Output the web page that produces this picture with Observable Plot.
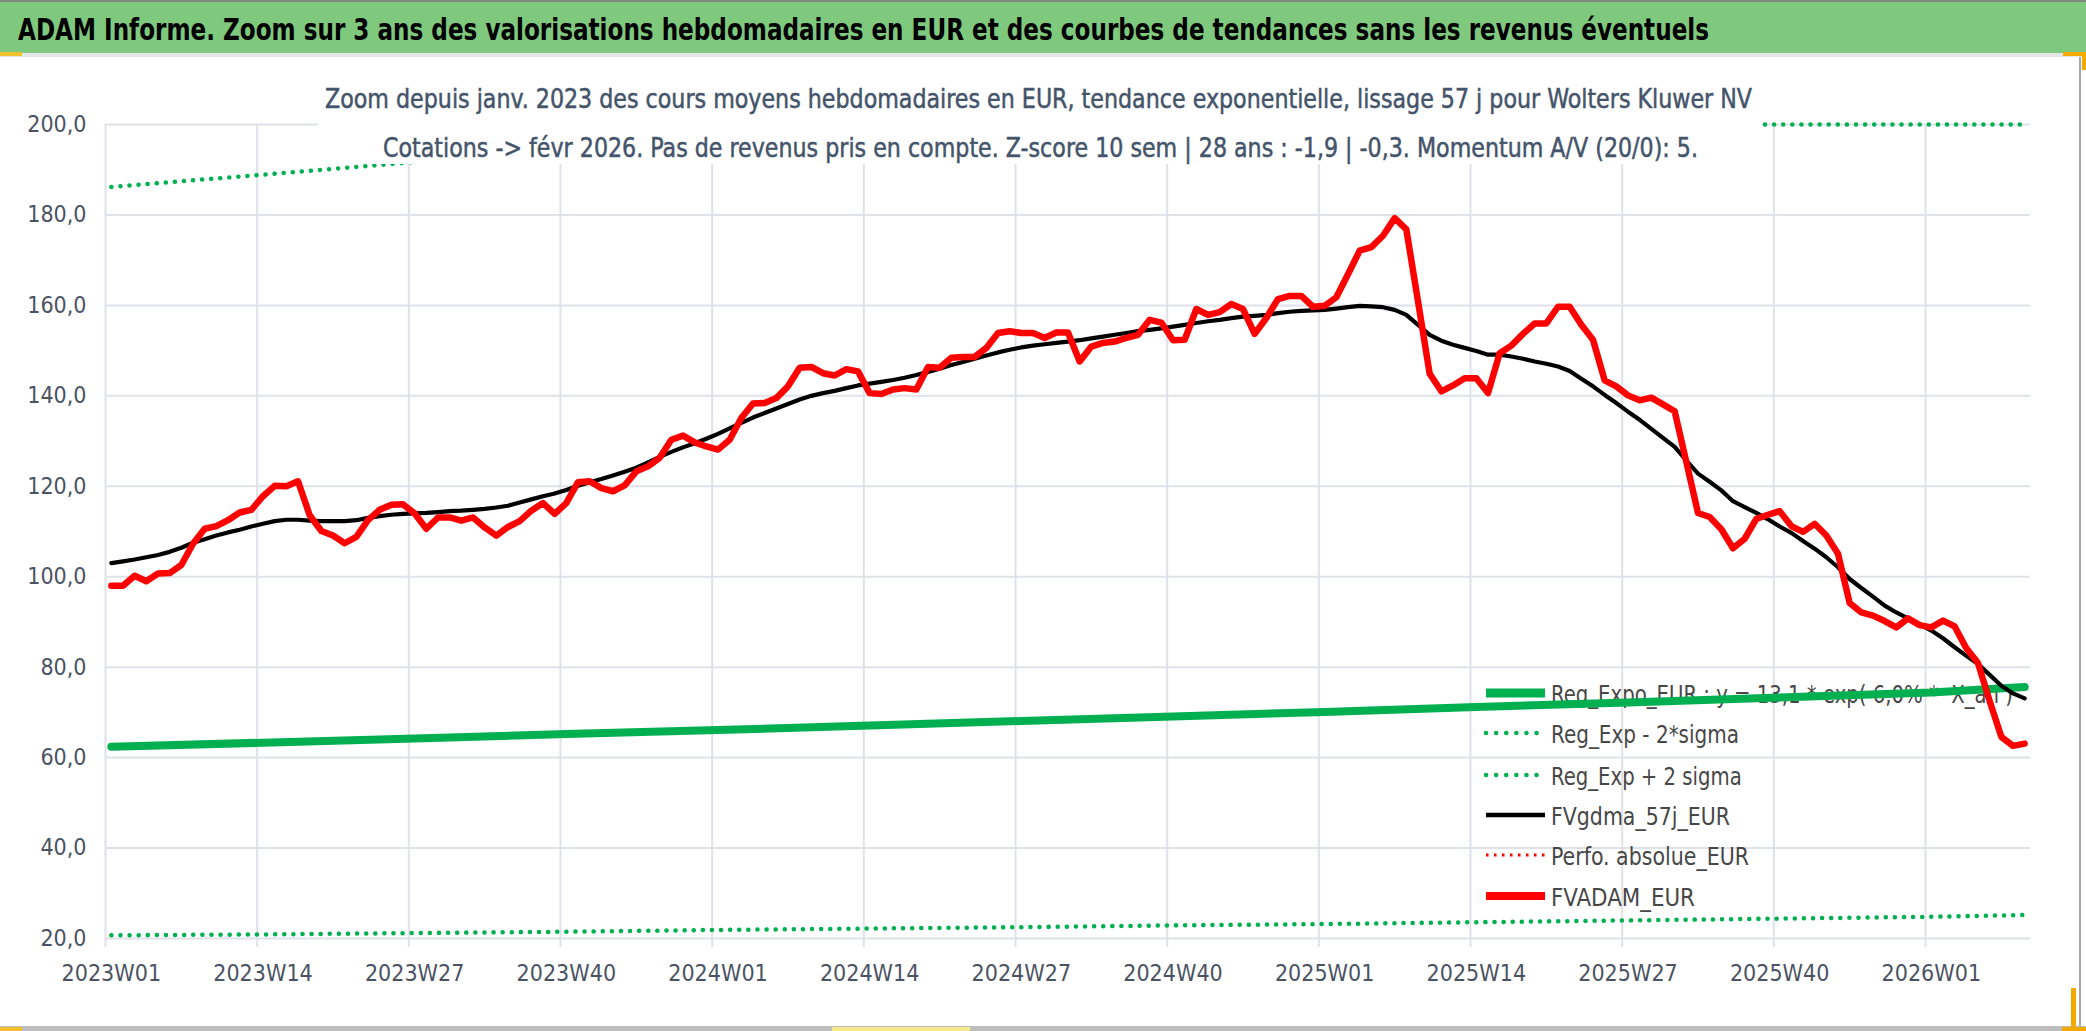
<!DOCTYPE html>
<html><head><meta charset="utf-8">
<script src="https://cdn.jsdelivr.net/npm/d3@7"></script>
<script src="https://cdn.jsdelivr.net/npm/@observablehq/plot@0.6"></script>
<style>
html,body{margin:0;padding:0;background:#fff;}
body{width:2086px;height:1031px;overflow:hidden;position:relative;font-family:"Liberation Sans Narrow","Arial Narrow","DejaVu Sans Condensed",sans-serif;}
#banner{position:absolute;left:0;top:0;width:2086px;height:53px;background:#7ec97e;border-top:2px solid #7d8a7d;box-sizing:border-box;}
#sep{position:absolute;left:0;top:53px;width:2086px;height:4px;background:#e4e6ea;}
.fit{position:absolute;white-space:nowrap;transform-origin:0 0;line-height:1;}
#title{font-weight:bold;font-size:30px;color:#000;z-index:3;}
#subbox{position:absolute;left:318px;top:60px;width:1444px;height:104px;background:#fff;z-index:2;}
.sub{font-size:27px;color:#44546a;z-index:3;-webkit-text-stroke:0.45px #44546a;}
#chart{position:absolute;left:0;top:57px;z-index:1;}
.frameR{position:absolute;left:2079px;top:57px;width:2px;height:970px;background:#a6a6a6;z-index:4}
.frameB{position:absolute;left:0;top:1026px;width:2086px;height:5px;background:#bdbdbd;z-index:4}
.h{position:absolute;z-index:5;}
</style></head>
<body>
<div id="banner"></div>
<div id="sep"></div>
<div id="title" class="fit" data-left="18" data-right="1709" data-base="40">ADAM Informe. Zoom sur 3 ans des valorisations hebdomadaires en EUR et des courbes de tendances sans les revenus éventuels</div>
<div id="chart"></div>
<div id="subbox"></div>
<div class="fit sub" data-left="325" data-right="1752" data-base="109">Zoom depuis janv. 2023 des cours moyens hebdomadaires en EUR, tendance exponentielle, lissage 57 j pour Wolters Kluwer NV</div>
<div class="fit sub" data-left="383" data-right="1698" data-base="158">Cotations -&gt; févr 2026. Pas de revenus pris en compte. Z-score 10 sem | 28 ans : -1,9 | -0,3. Momentum A/V (20/0): 5.</div>
<div class="frameR"></div>
<div class="frameB"></div>
<div class="h" style="left:0;top:52px;width:22px;height:4px;background:#f2c12e"></div>
<div class="h" style="left:2063px;top:52px;width:23px;height:4px;background:#f2a900"></div>
<div class="h" style="left:2082px;top:52px;width:4px;height:18px;background:#f2a900"></div>
<div class="h" style="left:0;top:1027px;width:22px;height:4px;background:#f2c12e"></div>
<div class="h" style="left:832px;top:1027px;width:138px;height:4px;background:#f6e98c"></div>
<div class="h" style="left:2062px;top:1027px;width:24px;height:4px;background:#f2a900"></div>
<div class="h" style="left:2071px;top:988px;width:5px;height:40px;background:#f2a900"></div>
<script>
// ---------- DATA ----------
const weeks = ("2023W01 2023W02 2023W03 2023W04 2023W05 2023W06 2023W07 2023W08 2023W09 2023W10 2023W11 2023W12 2023W13 " +
"2023W14 2023W15 2023W16 2023W17 2023W18 2023W19 2023W20 2023W21 2023W22 2023W23 2023W24 2023W25 2023W26 " +
"2023W27 2023W28 2023W29 2023W30 2023W31 2023W32 2023W33 2023W34 2023W35 2023W36 2023W37 2023W38 2023W39 " +
"2023W40 2023W41 2023W42 2023W43 2023W44 2023W45 2023W46 2023W47 2023W48 2023W49 2023W50 2023W51 2023W52 " +
"2024W01 2024W02 2024W03 2024W04 2024W05 2024W06 2024W07 2024W08 2024W09 2024W10 2024W11 2024W12 2024W13 " +
"2024W14 2024W15 2024W16 2024W17 2024W18 2024W19 2024W20 2024W21 2024W22 2024W23 2024W24 2024W25 2024W26 " +
"2024W27 2024W28 2024W29 2024W30 2024W31 2024W32 2024W33 2024W34 2024W35 2024W36 2024W37 2024W38 2024W39 " +
"2024W40 2024W41 2024W42 2024W43 2024W44 2024W45 2024W46 2024W47 2024W48 2024W49 2024W50 2024W51 2024W52 " +
"2025W01 2025W02 2025W03 2025W04 2025W05 2025W06 2025W07 2025W08 2025W09 2025W10 2025W11 2025W12 2025W13 " +
"2025W14 2025W15 2025W16 2025W17 2025W18 2025W19 2025W20 2025W21 2025W22 2025W23 2025W24 2025W25 2025W26 " +
"2025W27 2025W28 2025W29 2025W30 2025W31 2025W32 2025W33 2025W34 2025W35 2025W36 2025W37 2025W38 2025W39 " +
"2025W40 2025W41 2025W42 2025W43 2025W44 2025W45 2025W46 2025W47 2025W48 2025W49 2025W50 2025W51 2025W52 " +
"2026W01 2026W02 2026W03 2026W04 2026W05 2026W06 2026W07 2026W08 2026W09").split(" ");

const tickLabels = ["2023W01","2023W14","2023W27","2023W40","2024W01","2024W14","2024W27","2024W40",
  "2025W01","2025W14","2025W27","2025W40","2026W01"];
const yTicks = [20,40,60,80,100,120,140,160,180,200];

// FVADAM_EUR (weekly average price, EUR)
const fvadam = [98.0,98.0,100.2,99.0,100.7,100.8,102.6,107.3,110.6,111.2,112.5,114.2,114.8,117.8,120.1,120.0,121.1,113.6,110.1,109.1,
107.4,108.8,112.5,114.8,115.9,116.0,114.0,110.6,113.1,113.1,112.4,113.1,110.9,109.1,111.0,112.3,114.6,116.3,113.9,116.3,
120.9,121.1,119.6,118.9,120.2,123.3,124.4,126.3,130.3,131.2,129.7,128.8,128.1,130.3,135.1,138.3,138.4,139.5,142.1,146.2,
146.4,145.0,144.5,145.9,145.4,140.6,140.4,141.4,141.7,141.4,146.4,146.2,148.4,148.6,148.6,150.6,153.9,154.3,153.9,153.9,
152.8,154.0,154.0,147.6,150.9,151.7,152.0,152.8,153.5,156.8,156.2,152.3,152.4,159.2,157.9,158.5,160.3,159.2,153.7,157.2,
161.4,162.1,162.1,159.7,159.9,161.8,166.9,172.1,172.9,175.4,179.3,176.8,160.9,144.9,141.0,142.3,143.9,143.9,140.6,149.4,
151.1,153.7,156.0,156.0,159.7,159.7,155.7,152.4,143.4,142.1,140.1,139.0,139.6,138.1,136.6,125.4,114.1,113.2,110.5,106.3,
108.4,112.8,113.7,114.5,111.2,109.9,111.7,109.1,105.1,94.2,92.1,91.4,90.2,88.8,90.8,89.3,88.8,90.3,89.0,84.2,
80.9,72.5,64.6,62.6,63.1];

// FVgdma_57j_EUR (57-day smoothing)
const fvgdma = [103.0,103.4,103.8,104.3,104.8,105.5,106.4,107.5,108.3,109.1,109.8,110.4,111.1,111.7,112.3,112.6,112.6,112.4,112.3,112.3,
112.3,112.5,113.0,113.4,113.7,113.9,114.0,114.1,114.3,114.5,114.6,114.8,115.0,115.3,115.7,116.4,117.1,117.8,118.4,119.2,
120.1,120.9,121.6,122.4,123.2,124.1,125.3,126.5,127.6,128.6,129.5,130.5,131.6,132.8,134.0,135.2,136.2,137.2,138.2,139.2,
140.0,140.6,141.1,141.7,142.3,142.7,143.1,143.5,144.0,144.6,145.3,146.0,146.8,147.5,148.2,148.9,149.6,150.2,150.7,151.1,
151.4,151.7,152.0,152.3,152.7,153.1,153.5,153.9,154.3,154.6,154.9,155.3,155.7,156.1,156.5,156.8,157.2,157.5,157.7,157.9,
158.3,158.6,158.8,158.9,159.0,159.3,159.6,159.9,159.8,159.6,159.0,157.9,155.7,153.5,152.2,151.3,150.6,149.9,149.1,149.1,
148.7,148.2,147.6,147.1,146.5,145.5,143.8,142.1,140.2,138.4,136.5,134.7,132.7,130.7,128.7,125.7,122.8,121.0,119.1,116.7,
115.4,114.1,112.7,111.1,109.7,107.9,106.2,104.3,102.1,99.5,97.5,95.6,93.6,92.1,90.8,89.5,88.1,86.4,84.4,82.5,
80.7,78.3,75.9,74.2,73.1];

// Exponential regression and ±2 sigma band, read at the labelled weeks and at the last week
const trendWeeks = ["2023W01","2023W14","2023W27","2023W40","2024W01","2024W14","2024W27","2024W40",
  "2025W01","2025W14","2025W27","2025W40","2026W01","2026W09"];
const regExpo = [62.4,63.3,64.2,65.2,66.1,67.1,68.1,69.1,70.1,71.2,72.2,73.3,74.4,75.6];
const regLow  = [20.7,20.9,21.2,21.5,21.9,22.2,22.5,22.9,23.2,23.6,24.0,24.4,24.8,25.2];
const regHigh = [186.2,188.9,191.7,194.6,197.5,200.4,203.3,206.3,209.3,212.4,215.5,218.7,222.0,225.7];

const legendLabels = ["Reg_Expo_EUR : y = 13,1 * exp( 6,0% *  X_an )","Reg_Exp - 2*sigma","Reg_Exp + 2 sigma",
  "FVgdma_57j_EUR","Perfo. absolue_EUR","FVADAM_EUR"];

// ---------- BUILD ----------
const FONT = '"Liberation Sans Narrow","Arial Narrow","DejaVu Sans Condensed",sans-serif';
const GRID = "#dfe2e8", TXT = "#4b5363", GREEN = "#00b050", RED = "#ff0000";
const idx = w => weeks.indexOf(w);
const pos = i => i + 0.5;
const tickIdx = tickLabels.map(idx);
const redData = fvadam.map((v, i) => ({i, v}));
const blackData = fvgdma.map((v, i) => ({i, v}));
const mk = arr => arr.map((v, k) => ({i: idx(trendWeeks[k]), v}));
const expoData = mk(regExpo), lowData = mk(regLow), highData = mk(regHigh);
const fr = v => v.toFixed(1).replace(".", ",");
const YMAX = 200;

const chart = Plot.plot({
  width: 2086, height: 962,
  marginLeft: 105, marginRight: 56, marginTop: 67, marginBottom: 81,
  x: {domain: [0, weeks.length], label: null},
  y: {domain: [20, YMAX], label: null},
  style: {fontFamily: FONT, fontSize: "23px", color: TXT, background: "transparent", overflow: "visible"},
  marks: [
    Plot.ruleY(yTicks, {stroke: GRID, strokeWidth: 2}),
    Plot.ruleX(tickIdx, {y1: 20, y2: YMAX, stroke: GRID, strokeWidth: 2}),
    Plot.axisX({ticks: tickIdx, tickSize: 9, tickFormat: () => "", stroke: GRID, strokeWidth: 2, label: null}),
    Plot.axisX({ticks: tickIdx.map(pos), tickSize: 0, tickPadding: 26, tickFormat: v => weeks[Math.round(v - 0.5)], fill: TXT, label: null}),
    Plot.axisY({ticks: yTicks, tickSize: 0, tickPadding: 19, tickFormat: fr, fill: TXT, label: null}),
    Plot.line(expoData, {x: d => pos(d.i), y: "v", stroke: GREEN, strokeWidth: 8, strokeLinecap: "round"}),
    Plot.line(lowData, {x: d => pos(d.i), y: "v", stroke: GREEN, strokeWidth: 4.5, strokeDasharray: "0.1 9", strokeLinecap: "round"}),
    Plot.line(highData, {x: d => pos(d.i), y: d => Math.min(d.v, YMAX), stroke: GREEN, strokeWidth: 4.5, strokeDasharray: "0.1 9", strokeLinecap: "round"}),
    Plot.line(blackData, {x: d => pos(d.i), y: "v", stroke: "#000", strokeWidth: 4.2, strokeLinejoin: "round"}),
    Plot.line(redData, {x: d => pos(d.i), y: "v", stroke: RED, strokeWidth: 6.5, strokeLinejoin: "round", strokeLinecap: "round"})
  ]
});
document.getElementById("chart").appendChild(chart);

// ---------- LEGEND (drawn under the series, like the original) ----------
const firstLine = chart.querySelector('g[aria-label="line"]');
const lg = document.createElementNS("http://www.w3.org/2000/svg", "g");
chart.insertBefore(lg, firstLine);
const L = d3.select(lg).attr("font-family", FONT).attr("fill", "#474747").attr("text-anchor", "start");
const legY = [636, 676, 718, 758, 798, 839];
const legEnd = [2013, 1739, 1736, 1730, 1749, 1695];
const legStyle = [
  {stroke: GREEN, w: 9, dash: null, cap: "butt"},
  {stroke: GREEN, w: 4.5, dash: "0.1 10", cap: "round"},
  {stroke: GREEN, w: 4.5, dash: "0.1 10", cap: "round"},
  {stroke: "#000", w: 4.5, dash: null, cap: "butt"},
  {stroke: RED, w: 3, dash: "2.5 5.5", cap: "butt"},
  {stroke: RED, w: 8, dash: null, cap: "butt"}
];
const LEG_FS = 25;
L.attr("font-size", LEG_FS);
const probe = L.append("text").text(legendLabels[0]);
const legFs = Math.min(LEG_FS, LEG_FS * (legEnd[0] - 1551) / probe.node().getComputedTextLength());
probe.remove();
L.attr("font-size", legFs);
const sy = LEG_FS / legFs;   // restore the original glyph height
legendLabels.forEach((t, k) => {
  const s = legStyle[k];
  const ln = L.append("line").attr("x1", 1486).attr("x2", 1545).attr("y1", legY[k]).attr("y2", legY[k])
    .attr("stroke", s.stroke).attr("stroke-width", s.w).attr("stroke-linecap", s.cap);
  if (s.dash) ln.attr("stroke-dasharray", s.dash);
  const base = legY[k] + 10;
  const tx = L.append("text").attr("x", 1551).attr("y", 0).attr("text-anchor", "start").text(t)
    .attr("transform", `translate(0,${base}) scale(1,${sy})`);
  const nat = tx.node().getComputedTextLength();
  if (nat < legEnd[k] - 1551) tx.attr("textLength", legEnd[k] - 1551).attr("lengthAdjust", "spacingAndGlyphs");
});

// ---------- fit HTML texts to the original widths and heights ----------
document.querySelectorAll(".fit").forEach(el => {
  const left = +el.dataset.left, right = +el.dataset.right, base = +el.dataset.base;
  const fs0 = parseFloat(getComputedStyle(el).fontSize);
  let fs = fs0;
  let w = el.getBoundingClientRect().width;
  if (w > right - left) { fs = fs0 * (right - left) / w; el.style.fontSize = fs + "px"; w = el.getBoundingClientRect().width; }
  const syy = fs0 / fs;
  el.style.left = left + "px";
  el.style.top = (base - 0.85 * fs * syy) + "px";
  el.style.transform = `scale(${(right - left) / w}, ${syy})`;
});
</script>
</body></html>
